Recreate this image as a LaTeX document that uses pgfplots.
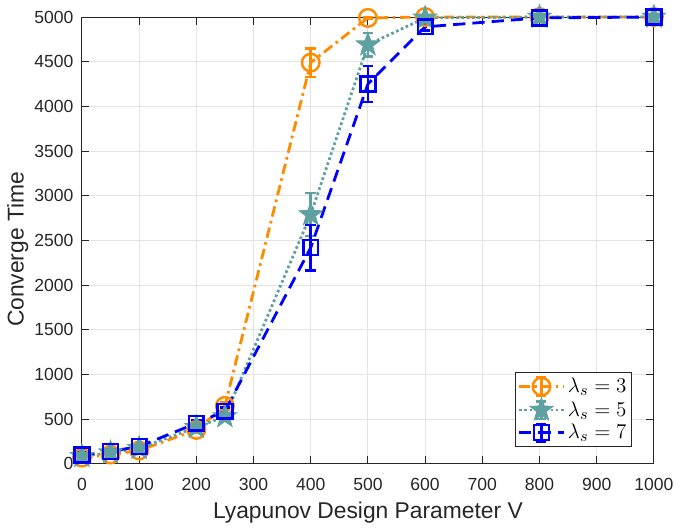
\documentclass[border=0pt]{standalone}
\usepackage{pgfplots}
\pgfplotsset{compat=1.18}
\usetikzlibrary{plotmarks}
\usepackage{fontspec}
\setmainfont{Liberation Sans}
\definecolor{morange}{RGB}{255,140,0}
\definecolor{mteal}{RGB}{95,160,160}
\definecolor{mblue}{RGB}{0,0,255}
\definecolor{axgray}{RGB}{38,38,38}
\makeatletter
\pgfdeclareplotmark{pentagram}{%
  \pgfpathmoveto{\pgfpointpolar{90}{\pgfplotmarksize}}%
  \pgfpathlineto{\pgfpointpolar{126}{0.40\pgfplotmarksize}}%
  \pgfpathlineto{\pgfpointpolar{162}{\pgfplotmarksize}}%
  \pgfpathlineto{\pgfpointpolar{198}{0.40\pgfplotmarksize}}%
  \pgfpathlineto{\pgfpointpolar{234}{\pgfplotmarksize}}%
  \pgfpathlineto{\pgfpointpolar{270}{0.40\pgfplotmarksize}}%
  \pgfpathlineto{\pgfpointpolar{306}{\pgfplotmarksize}}%
  \pgfpathlineto{\pgfpointpolar{342}{0.40\pgfplotmarksize}}%
  \pgfpathlineto{\pgfpointpolar{18}{\pgfplotmarksize}}%
  \pgfpathlineto{\pgfpointpolar{54}{0.40\pgfplotmarksize}}%
  \pgfpathclose
  \pgfusepathqfillstroke
}
\makeatother
\pgfplotsset{
  errlegend/.style={legend image code/.code={%
    \draw[solid, line width=1.5pt] (0.45cm,-5pt) -- (0.45cm,5pt);
    \draw[solid, line width=1.5pt] (0.35cm,-5pt) -- (0.55cm,-5pt);
    \draw[solid, line width=1.5pt] (0.35cm,5pt) -- (0.55cm,5pt);
    \draw[mark repeat=2,mark phase=2] plot coordinates {(0cm,0cm) (0.45cm,0cm) (0.9cm,0cm)};}},
}
\begin{document}
\begin{tikzpicture}
\begin{axis}[
  scale only axis,
  width=326pt, height=254.7pt,
  xmin=0, xmax=1000, ymin=0, ymax=5000,
  xtick={0,100,...,1000}, ytick={0,500,...,5000},
  /pgf/number format/assume math mode=true,
  scaled ticks=false,
  yticklabel style={/pgf/number format/fixed, /pgf/number format/1000 sep={}, xshift=-1.3pt},
  xticklabel style={/pgf/number format/1000 sep={}, yshift=-4.5pt},
  tick label style={font=\fontsize{10}{12}\selectfont, text=axgray},
  grid=major,
  grid style={gray!22, line width=0.5pt},
  axis line style={axgray, line width=0.5pt},
  tick style={axgray, line width=0.5pt},
  tick align=inside,
  xlabel={Lyapunov Design Parameter V},
  ylabel={Converge Time},
  label style={font=\fontsize{13}{15}\selectfont, text=axgray},
  xlabel style={at={(axis description cs:0.5,-0.123)}, anchor=base},
  ylabel style={at={(axis description cs:-0.083,0.48)}, anchor=south},
  legend style={at={(0.962,0.038)}, anchor=south east, draw=axgray, line width=0.5pt,
    font=\fontsize{12.5}{15}\selectfont, cells={anchor=west}, row sep=0pt, inner sep=1.5pt,
    nodes={inner sep=1.5pt}},
  legend cell align=left,
  clip=false,
]
\addplot[errlegend, color=morange, line width=1.6pt, dash pattern=on 6pt off 2.5pt on 1.5pt off 2.5pt,
  mark=o, mark size=5pt, mark options={solid, line width=1.4pt, fill=white},
  error bars/.cd, y dir=both, y explicit,
  error bar style={solid, line width=1.5pt},
  error mark options={rotate=90, mark size=3pt, line width=1.5pt}]
  coordinates {
  (0,70) +- (0,25)
  (50,105) +- (0,25)
  (100,150) +- (0,30)
  (200,380) +- (0,30)
  (250,650) +- (0,40)
  (400,4490) +- (0,160)
  (500,4990) +- (0,10)
  (600,5000) +- (0,0)
  (800,5000) +- (0,0)
  (1000,5000) +- (0,0)
  };
\addlegendentry{$\lambda_s=3$}
\addplot[errlegend, color=mteal, line width=1.6pt, dash pattern=on 1.5pt off 1.5pt,
  mark=pentagram, mark size=7pt, mark options={solid, fill=mteal, line width=0.5pt},
  error bars/.cd, y dir=both, y explicit,
  error bar style={solid, line width=1.5pt},
  error mark options={rotate=90, mark size=3pt, line width=1.5pt}]
  coordinates {
  (0,85) +- (0,25)
  (50,125) +- (0,25)
  (100,175) +- (0,30)
  (200,410) +- (0,30)
  (250,530) +- (0,40)
  (400,2790) +- (0,240)
  (500,4690) +- (0,130)
  (600,4990) +- (0,10)
  (800,5000) +- (0,0)
  (1000,5000) +- (0,0)
  };
\addlegendentry{$\lambda_s=5$}
\addplot[errlegend, color=mblue, line width=1.6pt, dash pattern=on 7pt off 4pt,
  mark=square, mark size=4.2pt, mark options={solid, line width=1.4pt, fill=white},
  error bars/.cd, y dir=both, y explicit,
  error bar style={solid, line width=1.5pt},
  error mark options={rotate=90, mark size=3pt, line width=1.5pt}]
  coordinates {
  (0,100) +- (0,25)
  (50,140) +- (0,25)
  (100,195) +- (0,30)
  (200,455) +- (0,30)
  (250,590) +- (0,40)
  (400,2420) +- (0,255)
  (500,4250) +- (0,200)
  (600,4890) +- (0,40)
  (800,4990) +- (0,10)
  (1000,5000) +- (0,0)
  };
\addlegendentry{$\lambda_s=7$}
\end{axis}
\pgfresetboundingbox
\path[use as bounding box] ([xshift=-46.7pt,yshift=-36pt]current axis.south west) rectangle ([xshift=20pt,yshift=9.7pt]current axis.north east);
\end{tikzpicture}
\end{document}
